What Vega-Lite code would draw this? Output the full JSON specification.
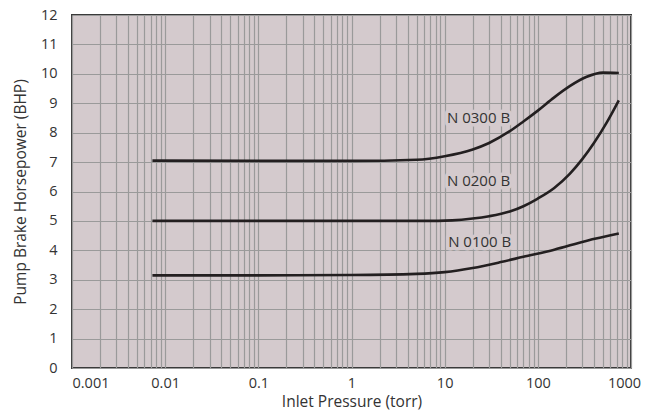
{
  "$schema": "https://vega.github.io/schema/vega-lite/v6.json",
  "autosize": "none",
  "width": 559,
  "height": 353,
  "padding": {"left": 72, "top": 15, "right": 27, "bottom": 51},
  "config": {
    "font": "Open Sans",
    "view": {"fill": "#d4cacd", "stroke": "#3a3a3a", "strokeWidth": 2},
    "axis": {"labelColor": "#333333", "titleColor": "#333333", "labelFont": "Open Sans", "titleFont": "Open Sans", "titleFontWeight": "normal"}
  },
  "datasets": {
    "curves": [
      {"model": "N 0300 B", "p": 0.0073, "bhp": 7.05},
      {"model": "N 0300 B", "p": 0.1, "bhp": 7.04},
      {"model": "N 0300 B", "p": 1, "bhp": 7.04},
      {"model": "N 0300 B", "p": 5, "bhp": 7.08},
      {"model": "N 0300 B", "p": 10, "bhp": 7.2},
      {"model": "N 0300 B", "p": 20, "bhp": 7.43},
      {"model": "N 0300 B", "p": 30, "bhp": 7.65},
      {"model": "N 0300 B", "p": 50, "bhp": 8.05},
      {"model": "N 0300 B", "p": 70, "bhp": 8.38},
      {"model": "N 0300 B", "p": 100, "bhp": 8.75},
      {"model": "N 0300 B", "p": 150, "bhp": 9.2},
      {"model": "N 0300 B", "p": 220, "bhp": 9.58},
      {"model": "N 0300 B", "p": 330, "bhp": 9.89},
      {"model": "N 0300 B", "p": 500, "bhp": 10.04},
      {"model": "N 0300 B", "p": 740, "bhp": 10.03},
      {"model": "N 0200 B", "p": 0.0073, "bhp": 5.0},
      {"model": "N 0200 B", "p": 1, "bhp": 5.0},
      {"model": "N 0200 B", "p": 6, "bhp": 5.0},
      {"model": "N 0200 B", "p": 12, "bhp": 5.02},
      {"model": "N 0200 B", "p": 20, "bhp": 5.08},
      {"model": "N 0200 B", "p": 30, "bhp": 5.16},
      {"model": "N 0200 B", "p": 50, "bhp": 5.32},
      {"model": "N 0200 B", "p": 70, "bhp": 5.5},
      {"model": "N 0200 B", "p": 100, "bhp": 5.76},
      {"model": "N 0200 B", "p": 150, "bhp": 6.12},
      {"model": "N 0200 B", "p": 220, "bhp": 6.6},
      {"model": "N 0200 B", "p": 300, "bhp": 7.1},
      {"model": "N 0200 B", "p": 400, "bhp": 7.65},
      {"model": "N 0200 B", "p": 550, "bhp": 8.35},
      {"model": "N 0200 B", "p": 740, "bhp": 9.1},
      {"model": "N 0100 B", "p": 0.0073, "bhp": 3.15},
      {"model": "N 0100 B", "p": 0.1, "bhp": 3.15},
      {"model": "N 0100 B", "p": 1, "bhp": 3.16},
      {"model": "N 0100 B", "p": 5, "bhp": 3.2},
      {"model": "N 0100 B", "p": 10, "bhp": 3.26},
      {"model": "N 0100 B", "p": 20, "bhp": 3.4},
      {"model": "N 0100 B", "p": 40, "bhp": 3.6},
      {"model": "N 0100 B", "p": 70, "bhp": 3.78},
      {"model": "N 0100 B", "p": 150, "bhp": 4.02},
      {"model": "N 0100 B", "p": 330, "bhp": 4.32},
      {"model": "N 0100 B", "p": 740, "bhp": 4.57}
    ],
    "labels": [
      {"model": "N 0300 B", "p": 10.6, "bhp": 8.51},
      {"model": "N 0200 B", "p": 10.6, "bhp": 6.35},
      {"model": "N 0100 B", "p": 10.9, "bhp": 4.29}
    ]
  },
  "encoding": {
    "x": {"field": "p", "type": "quantitative", "scale": {"type": "log", "domain": [0.001, 1000]},
      "axis": {
        "title": "Inlet Pressure (torr)",
        "values": [0.001,0.002,0.003,0.004,0.005,0.006,0.007,0.008,0.009,0.01,0.02,0.03,0.04,0.05,0.06,0.07,0.08,0.09,0.1,0.2,0.3,0.4,0.5,0.6,0.7,0.8,0.9,1,2,3,4,5,6,7,8,9,10,20,30,40,50,60,70,80,90,100,200,300,400,500,600,700,800,900,1000],
        "format": "~g",
        "labelExpr": "abs(log(datum.value)/LN10 - round(log(datum.value)/LN10)) < 0.000001 ? datum.label : ''",
        "labelOverlap": false,
        "labelAlign": {"condition": {"test": "datum.value < 0.0011", "value": "left"}, "value": "center"},
        "labelOffset": {"condition": {"test": "datum.value > 999", "value": -7}, "value": 0},
        "grid": true, "gridColor": "#9a9a9a", "gridWidth": 1.2,
        "ticks": false, "domain": false,
        "labelFontSize": 14.5, "labelPadding": 8,
        "titleFontSize": 15.5, "titlePadding": 5
      }},
    "y": {"field": "bhp", "type": "quantitative", "scale": {"domain": [0, 12], "nice": false},
      "axis": {
        "title": "Pump Brake Horsepower (BHP)",
        "values": [0,0.25,0.5,0.75,1,1.25,1.5,1.75,2,2.25,2.5,2.75,3,3.25,3.5,3.75,4,4.25,4.5,4.75,5,5.25,5.5,5.75,6,6.25,6.5,6.75,7,7.25,7.5,7.75,8,8.25,8.5,8.75,9,9.25,9.5,9.75,10,10.25,10.5,10.75,11,11.25,11.5,11.75,12],
        "format": "d",
        "labelExpr": "datum.value % 1 == 0 ? datum.label : ''",
        "labelOverlap": false,
        "offset": -5,
        "tickSize": 5, "tickColor": "#8a8a8a", "tickWidth": 1.5,
        "tickOpacity": {"condition": {"test": "datum.value % 1 == 0", "value": 0}, "value": 1},
        "grid": true, "gridColor": "#9a9a9a", "gridWidth": 1.2,
        "gridOpacity": {"condition": {"test": "datum.value % 1 == 0", "value": 1}, "value": 0},
        "domain": false,
        "labelFontSize": 14.5, "labelPadding": 15,
        "titleFontSize": 15.5, "titlePadding": 12
      }}
  },
  "layer": [
    {
      "data": {"name": "labels"},
      "mark": {"type": "text", "align": "left", "baseline": "middle", "fontSize": 15, "stroke": "#d4cacd", "strokeWidth": 7, "strokeJoin": "round", "color": "#d4cacd"},
      "encoding": {"text": {"field": "model"}}
    },
    {
      "data": {"name": "labels"},
      "mark": {"type": "text", "align": "left", "baseline": "middle", "fontSize": 15, "color": "#333333"},
      "encoding": {"text": {"field": "model"}}
    },
    {
      "data": {"name": "curves"},
      "mark": {"type": "line", "interpolate": "monotone", "color": "#231f20", "strokeWidth": 2.6},
      "encoding": {"detail": {"field": "model"}}
    }
  ]
}
